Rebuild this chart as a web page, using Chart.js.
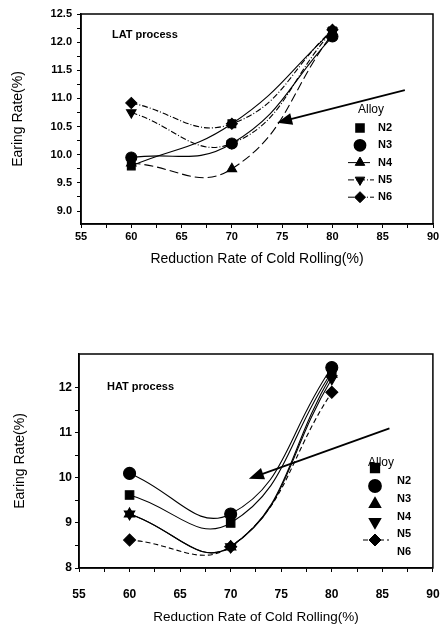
<!DOCTYPE html>
<html>
<head>
<meta charset="utf-8">
<script src="https://cdn.jsdelivr.net/npm/chart.js@4.4.0/dist/chart.umd.min.js"></script>
<style>
  body { margin: 0; background: #fff; width: 440px; height: 625px; overflow: hidden; position: relative; }
  canvas { position: absolute; left: 0; }
  #latChart { top: 0; }
  #hatChart { top: 300px; }
</style>
</head>
<body>
<canvas id="latChart" width="440" height="300"></canvas>
<canvas id="hatChart" width="440" height="325"></canvas>
<script>
// data
const reduction = [60, 70, 80];
const alloys = ["N2", "N3", "N4", "N5", "N6"];

const latN2 = [9.8, 10.55, 12.2];
const latN3 = [9.95, 10.2, 12.1];
const latN4 = [9.85, 9.75, 12.15];
const latN5 = [10.75, 10.2, 12.2];
const latN6 = [10.92, 10.55, 12.22];

const hatN2 = [9.62, 9.0, 12.35];
const hatN3 = [10.1, 9.2, 12.45];
const hatN4 = [9.2, 8.47, 12.3];
const hatN5 = [9.2, 8.47, 12.2];
const hatN6 = [8.62, 8.47, 11.9];

const xTicks = [55, 60, 65, 70, 75, 80, 85, 90];
const latYTicks = [9.0, 9.5, 10.0, 10.5, 11.0, 11.5, 12.0, 12.5];
const hatYTicks = [8, 9, 10, 11, 12];

// arrow annotations: [tail, head] in data units
const latArrow = [[87.2, 11.15], [74.5, 10.57]];
const hatArrow = [[85.7, 11.1], [71.8, 9.98]];

const FONT = "'Liberation Sans', Arial, sans-serif";

const markers = [
  { pointStyle: "rect", rotation: 0 },
  { pointStyle: "circle", rotation: 0 },
  { pointStyle: "triangle", rotation: 0 },
  { pointStyle: "triangle", rotation: 180 },
  { pointStyle: "rectRot", rotation: 0 }
];

function withMinor(list) {
  const out = [];
  list.forEach((v, i) => {
    out.push({ value: v });
    if (i < list.length - 1) out.push({ value: (v + list[i + 1]) / 2 });
  });
  return out;
}

const extras = {
  id: "extras",
  afterDatasetsDraw(chart, args, o) {
    const { ctx, chartArea: a, scales: { x, y } } = chart;
    ctx.save();
    // frame
    ctx.strokeStyle = "#000";
    ctx.lineWidth = 1.5;
    ctx.strokeRect(a.left, a.top, a.right - a.left, a.bottom - a.top);

    // label text
    ctx.fillStyle = "#000";
    ctx.font = "bold 11px " + FONT;
    ctx.textBaseline = "middle";
    ctx.fillText(o.label, o.labelX, o.labelY);

    // arrow
    const tx = x.getPixelForValue(o.arrow[0][0]), ty = y.getPixelForValue(o.arrow[0][1]);
    const hx = x.getPixelForValue(o.arrow[1][0]), hy = y.getPixelForValue(o.arrow[1][1]);
    const ang = Math.atan2(hy - ty, hx - tx);
    ctx.lineWidth = 1.8;
    ctx.beginPath();
    ctx.moveTo(tx, ty);
    ctx.lineTo(hx - Math.cos(ang) * 8, hy - Math.sin(ang) * 8);
    ctx.stroke();
    ctx.beginPath();
    ctx.moveTo(hx, hy);
    ctx.lineTo(hx - Math.cos(ang) * 15 + Math.sin(ang) * 6, hy - Math.sin(ang) * 15 - Math.cos(ang) * 6);
    ctx.lineTo(hx - Math.cos(ang) * 15 - Math.sin(ang) * 6, hy - Math.sin(ang) * 15 + Math.cos(ang) * 6);
    ctx.closePath();
    ctx.fill();

    // legend
    ctx.font = "12px " + FONT;
    ctx.fillText("Alloy", o.leg.titleX, o.leg.titleY);
    chart.data.datasets.forEach((ds, i) => {
      const my = o.leg.markY + i * o.leg.markStep;
      const ly = o.leg.textY + i * o.leg.textStep;
      if (ds.borderDash && ds.borderDash.length) {
        ctx.lineWidth = 1;
        ctx.setLineDash(ds.borderDash);
        ctx.beginPath();
        ctx.moveTo(o.leg.markX - 12, my);
        ctx.lineTo(o.leg.markX + 14, my);
        ctx.stroke();
        ctx.setLineDash([]);
      }
      Chart.helpers.drawPoint(ctx, {
        pointStyle: ds.pointStyle, rotation: ds.pointRotation,
        radius: ds.pointRadius, borderWidth: 1
      }, o.leg.markX, my);
      ctx.fillStyle = "#000";
      ctx.font = "bold 11px " + FONT;
      ctx.fillText(ds.label, o.leg.textX, ly);
    });
    ctx.restore();
  }
};

function makeChart(id, series, dashes, yTicks, yMin, yMax, lay) {
  const datasets = series.map((vals, i) => ({
    label: alloys[i],
    data: vals.map((v, j) => ({ x: reduction[j], y: v })),
    borderColor: "#000",
    backgroundColor: "#000",
    borderWidth: 1.1,
    borderDash: dashes[i],
    pointStyle: markers[i].pointStyle,
    pointRotation: markers[i].rotation,
    pointRadius: lay.radius,
    pointBackgroundColor: "#000",
    pointBorderColor: "#000",
    tension: 0.45
  }));
  return new Chart(document.getElementById(id), {
    type: "line",
    data: { datasets },
    plugins: [extras],
    options: {
      responsive: false,
      animation: false,
      layout: { padding: { top: lay.top, right: lay.right, left: 0, bottom: 0 } },
      plugins: {
        legend: { display: false },
        tooltip: { enabled: false },
        extras: lay.extras
      },
      scales: {
        x: {
          type: "linear", min: 55, max: 90,
          afterBuildTicks: s => { s.ticks = withMinor(xTicks); },
          // keep the edge labels from shrinking the plot area
          afterFit: s => { s.height = lay.xh; s.paddingLeft = 0; s.paddingRight = 0; },
          ticks: {
            autoSkip: false, maxRotation: 0, padding: lay.xpad, color: "#000",
            font: { family: FONT, size: lay.tick, weight: "bold" },
            callback: v => xTicks.includes(v) ? String(v) : ""
          },
          grid: { drawOnChartArea: false, tickLength: 4, color: "#000", lineWidth: 1 },
          border: { color: "#000", width: 1.5 },
          title: {
            display: true, text: "Reduction Rate of Cold Rolling(%)", color: "#000",
            font: { family: FONT, size: lay.title }, padding: { top: 0, bottom: lay.xtp }
          }
        },
        y: {
          min: yMin, max: yMax,
          afterBuildTicks: s => { s.ticks = withMinor(yTicks); },
          afterFit: s => { s.width = lay.yw; s.paddingTop = 0; s.paddingBottom = 0; },
          ticks: {
            autoSkip: false, padding: lay.ypad, color: "#000",
            font: { family: FONT, size: lay.tick, weight: "bold" },
            callback: v => yTicks.includes(v) ? (lay.dec ? v.toFixed(1) : String(v)) : ""
          },
          grid: { drawOnChartArea: false, tickLength: 4, color: "#000", lineWidth: 1 },
          border: { color: "#000", width: 1.5 },
          title: {
            display: true, text: "Earing Rate(%)", color: "#000",
            font: { family: FONT, size: 14 }, padding: { top: lay.ytp, bottom: 0 }
          }
        }
      }
    }
  });
}

makeChart("latChart",
  [latN2, latN3, latN4, latN5, latN6],
  [[], [], [9, 4], [6, 2, 1, 2], [6, 2, 1, 2]],
  latYTicks, 8.77, 12.5,
  { top: 14, right: 7, yw: 81, xh: 76, xpad: 2, ypad: 5, tick: 11, title: 14, xtp: 32, ytp: 10, radius: 5.5, dec: true,
    extras: { label: "LAT process", labelX: 112, labelY: 35, arrow: latArrow,
      leg: { titleX: 358, titleY: 110, markX: 360, markY: 128, markStep: 17.3, textX: 378, textY: 128, textStep: 17.3 } } });

makeChart("hatChart",
  [hatN2, hatN3, hatN4, hatN5, hatN6],
  [[], [], [], [], [5, 3]],
  hatYTicks, 8, 12.75,
  { top: 54, right: 1, yw: 79, xh: 57, xpad: 15, ypad: 3, tick: 12, title: 13.5, xtp: 0, ytp: 12, radius: 6, dec: false,
    extras: { label: "HAT process", labelX: 107, labelY: 87, arrow: hatArrow,
      leg: { titleX: 368, titleY: 163, markX: 375, markY: 168, markStep: 18, textX: 397, textY: 181, textStep: 17.8 } } });
</script>
</body>
</html>
